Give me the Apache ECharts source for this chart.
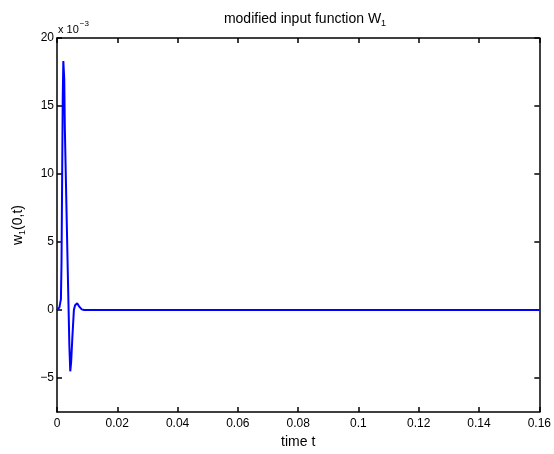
<!DOCTYPE html>
<html>
<head>
<meta charset="utf-8">
<script src="https://cdn.jsdelivr.net/npm/echarts@6/dist/echarts.min.js"></script>
<style>
html,body{margin:0;padding:0;background:#fff;}
#chart{width:554px;height:454px;}
</style>
</head>
<body>
<div id="chart"></div>
<script>
// time samples (s)
const timeT = [0, 0.0008, 0.0013, 0.0015, 0.0017, 0.0019, 0.0021, 0.0022, 0.0024, 0.0026, 0.0030, 0.0034, 0.0037, 0.00385, 0.0041, 0.0044, 0.0047, 0.0051, 0.0056, 0.0060, 0.0067, 0.0074, 0.0082, 0.0090, 0.0200, 0.0600, 0.1000, 0.1400, 0.1600];
// w_1(0,t) in units of 1e-3
const w1Values = [0, 0.2, 0.8, 3.5, 9.5, 15.5, 18.3, 18.4, 17.0, 13.4, 9.0, 4.7, 1.5, 0.0, -2.6, -4.5, -3.8, -2.0, 0.0, 0.35, 0.5, 0.25, 0.05, 0, 0, 0, 0, 0, 0];
const xTicks = [0, 0.02, 0.04, 0.06, 0.08, 0.1, 0.12, 0.14, 0.16];
const yTicks = [-5, 0, 5, 10, 15, 20];

const FONT = 'Liberation Sans';
const chart = echarts.init(document.getElementById('chart'), null, {renderer: 'canvas'});
const lineData = timeT.map((t, i) => [t, w1Values[i]]);

const axisLineStyle = {show: true, onZero: false, lineStyle: {color: '#000', width: 1.5}};
const tickStyle = {show: true, inside: true, length: 5, lineStyle: {color: '#000', width: 1.5}};

chart.setOption({
  animation: false,
  backgroundColor: '#fff',
  title: {
    text: '{m|modified input function W}{s|1}',
    left: 300, top: 5, textAlign: 'center',
    textStyle: {
      fontWeight: 'normal',
      rich: {
        m: {fontFamily: FONT, fontSize: 14, fontWeight: 'normal', color: '#000'},
        s: {fontFamily: FONT, fontSize: 9, fontWeight: 'normal', color: '#000', padding: [9, 0, 0, 0]}
      }
    }
  },
  graphic: [{
    type: 'text', left: 58, top: 20,
    style: {
      text: '{a|x 10}{b|−3}',
      rich: {
        a: {fontFamily: FONT, fontSize: 11, fill: '#000', padding: [5, 0, 0, 0]},
        b: {fontFamily: FONT, fontSize: 8, fill: '#000', padding: [0, 0, 6, 1]}
      }
    }
  }],
  grid: {left: 57, right: 11, top: 38, bottom: 36, containLabel: false},
  xAxis: [{
    type: 'value', min: 0, max: 0.16, interval: 0.02,
    position: 'bottom',
    name: 'time t', nameLocation: 'middle', nameGap: 19,
    nameTextStyle: {fontFamily: FONT, fontSize: 14, color: '#000'},
    axisLine: axisLineStyle, axisTick: tickStyle,
    splitLine: {show: false},
    axisLabel: {
      fontFamily: FONT, fontSize: 12, color: '#000', margin: 6,
      showMaxLabel: true, showMinLabel: true,
      formatter: v => String(+v.toFixed(2))
    }
  }, {
    type: 'value', min: 0, max: 0.16, interval: 0.02,
    position: 'top',
    axisLine: axisLineStyle, axisTick: tickStyle,
    splitLine: {show: false}, axisLabel: {show: false}
  }],
  yAxis: [{
    type: 'value', min: -7.5, max: 20,
    position: 'left',
    name: '{m|w}{s|1}{m|(0,t)}', nameLocation: 'middle', nameGap: 30, nameRotate: 90,
    nameTextStyle: {
      rich: {
        m: {fontFamily: FONT, fontSize: 14, color: '#000'},
        s: {fontFamily: FONT, fontSize: 9, color: '#000', padding: [9, 0, 0, 0]}
      }
    },
    axisLine: axisLineStyle,
    axisTick: Object.assign({}, tickStyle, {customValues: yTicks}),
    splitLine: {show: false},
    axisLabel: {
      fontFamily: FONT, fontSize: 12, color: '#000', margin: 3,
      customValues: yTicks,
      formatter: v => (v < 0 ? '−' + Math.abs(v) : String(v))
    }
  }, {
    type: 'value', min: -7.5, max: 20,
    position: 'right',
    axisLine: axisLineStyle,
    axisTick: Object.assign({}, tickStyle, {customValues: yTicks}),
    splitLine: {show: false}, axisLabel: {show: false}
  }],
  series: [{
    type: 'line',
    data: lineData,
    xAxisIndex: 0, yAxisIndex: 0,
    showSymbol: false, symbol: 'none',
    smooth: false,
    lineStyle: {color: '#0000ff', width: 2},
    clip: true
  }]
});
</script>
</body>
</html>
